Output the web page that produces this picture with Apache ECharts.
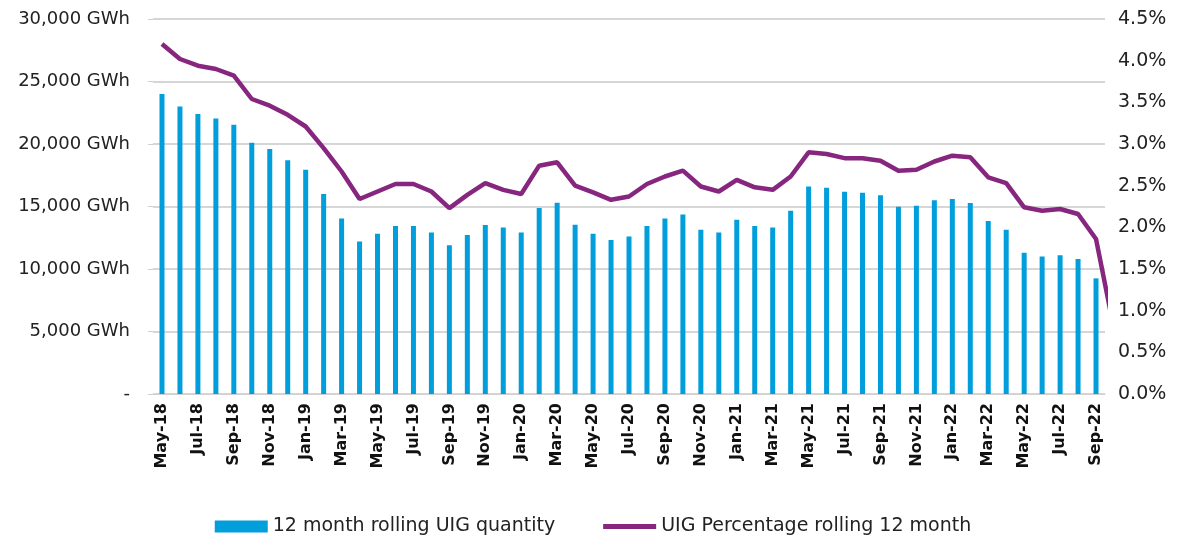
<!DOCTYPE html>
<html>
<head>
<meta charset="utf-8">
<script src="https://cdn.jsdelivr.net/npm/echarts@6/dist/echarts.min.js"></script>
<style>
	html, body { margin: 0; padding: 0; background: #fff; }
	#uig_chart { width: 1186px; height: 538px; }
</style>
</head>
<body>
<div id="uig_chart"></div>
<script>
// months shown on the axis (the line runs on half a month past the last one)
var months = ['May-18', 'Jun-18', 'Jul-18', 'Aug-18', 'Sep-18', 'Oct-18', 'Nov-18', 'Dec-18',
	'Jan-19', 'Feb-19', 'Mar-19', 'Apr-19', 'May-19', 'Jun-19', 'Jul-19', 'Aug-19', 'Sep-19', 'Oct-19', 'Nov-19', 'Dec-19',
	'Jan-20', 'Feb-20', 'Mar-20', 'Apr-20', 'May-20', 'Jun-20', 'Jul-20', 'Aug-20', 'Sep-20', 'Oct-20', 'Nov-20', 'Dec-20',
	'Jan-21', 'Feb-21', 'Mar-21', 'Apr-21', 'May-21', 'Jun-21', 'Jul-21', 'Aug-21', 'Sep-21', 'Oct-21', 'Nov-21', 'Dec-21',
	'Jan-22', 'Feb-22', 'Mar-22', 'Apr-22', 'May-22', 'Jun-22', 'Jul-22', 'Aug-22', 'Sep-22', 'Oct-22'];

// 12 month rolling UIG quantity, GWh
var uigQuantity = [24000, 23000, 22400, 22050, 21550, 20100, 19600, 18700,
	17950, 16000, 14050, 12200, 12830, 13450, 13450, 12930, 11900, 12720, 13520, 13330,
	12930, 14880, 15300, 13550, 12830, 12320, 12610, 13450, 14050, 14370, 13150, 12930,
	13950, 13450, 13330, 14670, 16600, 16500, 16190, 16110, 15900, 14990, 15070, 15500,
	15600, 15280, 13850, 13150, 11300, 11000, 11100, 10800, 9250];

// UIG percentage rolling 12 month, %
var uigPercent = [4.20, 4.02, 3.94, 3.90, 3.82, 3.54, 3.46, 3.35,
	3.21, 2.95, 2.67, 2.34, 2.43, 2.52, 2.52, 2.43, 2.23, 2.39, 2.53, 2.45,
	2.40, 2.74, 2.78, 2.50, 2.42, 2.33, 2.37, 2.52, 2.61, 2.68, 2.49, 2.43,
	2.57, 2.48, 2.45, 2.61, 2.90, 2.88, 2.83, 2.83, 2.80, 2.68, 2.69, 2.79,
	2.86, 2.84, 2.60, 2.53, 2.24, 2.20, 2.22, 2.16, 1.86, 0.78];

var leftTicks = [0, 30000, 5000];
var rightTicks = [0, 4.5, 0.5];

var myChart = echarts.init(document.getElementById('uig_chart'));
var font = 'DejaVu Sans';

var option = {
	animation: false,
	textStyle: { fontFamily: font },
	color: ['#009EDB', '#86267E'],
	grid: { left: 153, right: 81, top: 19, bottom: 144 },
	legend: {
		left: 'center',
		top: 512,
		itemWidth: 53,
		itemHeight: 12,
		itemGap: 48,
		textStyle: { fontFamily: font, fontSize: 19, color: '#222' },
		data: [
			{ name: '12 month rolling UIG quantity', icon: 'rect' },
			{ name: 'UIG Percentage rolling 12 month', icon: 'path://M0,0h53v5h-53z' }
		]
	},
	xAxis: {
		type: 'category',
		data: months,
		max: months.length - 2,
		axisLine: { lineStyle: { color: '#d0d0d0', width: 1 } },
		axisTick: { interval: 1, length: 6, lineStyle: { color: '#d0d0d0' } },
		axisLabel: {
			interval: 1,
			rotate: 90,
			margin: 9,
			fontFamily: font,
			fontSize: 16,
			fontWeight: 'bold',
			color: '#111'
		}
	},
	yAxis: [
		{
			type: 'value',
			min: leftTicks[0],
			max: leftTicks[1],
			interval: leftTicks[2],
			axisLine: { show: false },
			axisTick: { show: true, length: 5, lineStyle: { color: '#d0d0d0' } },
			splitLine: { lineStyle: { color: '#d6d6d6', width: 2 } },
			axisLabel: {
				margin: 23,
				fontFamily: font,
				fontSize: 18,
				color: '#222',
				formatter: function (value) {
					if (value == 0) {
						return '-';
					}
					return value.toLocaleString('en-US') + ' GWh';
				}
			}
		},
		{
			type: 'value',
			min: rightTicks[0],
			max: rightTicks[1],
			interval: rightTicks[2],
			axisLine: { show: false },
			axisTick: { show: false },
			splitLine: { show: false },
			axisLabel: {
				margin: 13,
				fontFamily: font,
				fontSize: 19,
				color: '#222',
				formatter: function (value) {
					return value.toFixed(1) + '%';
				}
			}
		}
	],
	series: [
		{
			name: '12 month rolling UIG quantity',
			type: 'bar',
			yAxisIndex: 0,
			barWidth: 5,
			data: uigQuantity
		},
		{
			name: 'UIG Percentage rolling 12 month',
			type: 'line',
			yAxisIndex: 1,
			symbol: 'none',
			clip: true,
			lineStyle: { width: 4.5, color: '#86267E' },
			data: uigPercent
		}
	]
};

myChart.setOption(option);
</script>
</body>
</html>
